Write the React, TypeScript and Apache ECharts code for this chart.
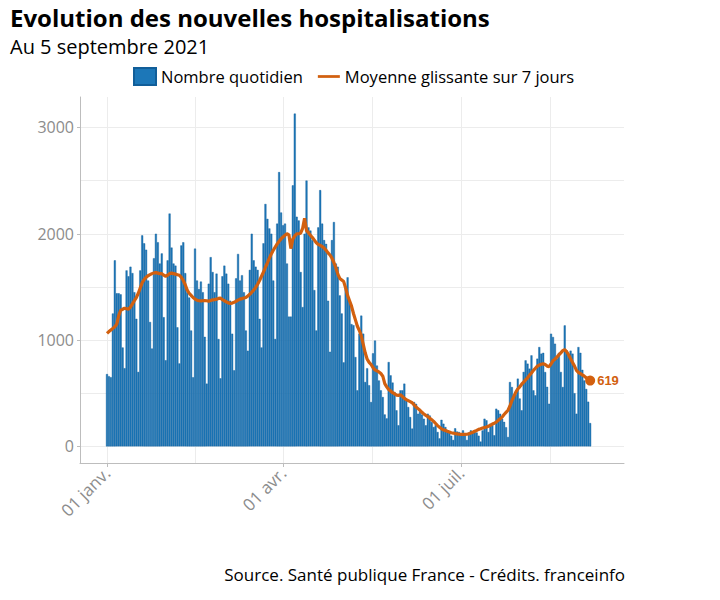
import React, { useEffect, useRef } from 'react';
import * as echarts from 'echarts';

// Daily new hospitalisations, 1 Jan 2021 (index 0) to 5 Sep 2021 (index 247)
const dailyCounts: number[] = [
  680, 660, 650,
  1250, 1750, 1440, 1440, 1430, 930, 735,
  1655, 1600, 1690, 1630, 1450, 1200, 700,
  1655, 1985, 1910, 1850, 1560, 1170, 920,
  1770, 2000, 1920, 1720, 1815, 1215, 810,
  1750, 2190, 1870, 1720, 1700, 1120, 780,
  1890, 1920, 1630, 1450, 1400, 1090, 650,
  1860, 1560, 1480, 1550, 1450, 1030, 590,
  1530, 1780, 1640, 1450, 1625, 1010, 640,
  1600, 1700, 1625, 1530, 1370, 1060, 715,
  1580, 1810, 1560, 1610, 1450, 1090, 900,
  1660, 2000, 1750, 1690, 1660, 1200, 930,
  1910, 2280, 2140, 2050, 2000, 1560, 1010,
  2095, 2580, 2200, 2080, 2095, 1720, 1220,
  1220, 2455, 3130, 2160, 2125, 1640, 1310,
  2000, 2500, 2060, 2030, 1940, 1470, 1090,
  2060, 2410, 2095, 1940, 1905, 1370, 890,
  1940, 2110, 1720, 1690, 1420, 1250, 790,
  1500, 1590, 1370, 1150, 1140, 840, 527,
  1060, 1230, 1060, 605, 735, 575, 417,
  875, 995, 760, 620, 527, 464, 300,
  263, 793, 668, 600, 511, 339, 198,
  527, 527, 590, 449, 370, 276, 167,
  417, 400, 307, 330, 300, 260, 198,
  307, 290, 229, 182, 200, 135, 75,
  250, 213, 182, 150, 135, 100, 60,
  170, 140, 135, 120, 150, 120, 60,
  130, 150, 140, 135, 130, 100, 45,
  150, 260, 245, 135, 213, 200, 104,
  354, 340, 307, 260, 230, 180, 88,
  605, 558, 480, 490, 637, 450, 339,
  700, 809, 778, 731, 856, 527, 480,
  825, 934, 872, 880, 699, 560, 401,
  1060, 1029, 966, 825, 880, 700, 558,
  1138, 903, 850, 900, 872, 500, 307,
  934, 880, 720, 620, 540, 420, 219,
];

// 7-day moving average as drawn on the reference
const movingAverage: number[] = [
  1063, 1080, 1095, 1110, 1125, 1150, 1230, 1280, 1290, 1300,
  1295, 1290, 1310, 1340, 1370, 1400, 1440, 1490, 1540, 1570,
  1590, 1605, 1615, 1625, 1632, 1635, 1630, 1625, 1625, 1610,
  1600, 1610, 1625, 1630, 1625, 1620, 1615, 1610, 1590, 1560,
  1520, 1470, 1440, 1420, 1400, 1385, 1375, 1370, 1368, 1370,
  1372, 1370, 1365, 1372, 1378, 1380, 1385, 1392, 1395, 1380,
  1370, 1360, 1350, 1345, 1348, 1355, 1365, 1375, 1385, 1390,
  1395, 1400, 1415, 1430, 1450, 1470, 1495, 1525, 1560, 1600,
  1640, 1685, 1725, 1770, 1810, 1845, 1875, 1905, 1930, 1952,
  1970, 1985, 2000, 1990, 1860, 1950, 1980, 2000, 2000, 2005,
  2050, 2145, 2030, 2010, 1985, 1965, 1940, 1915, 1900, 1890,
  1880, 1865, 1845, 1820, 1800, 1770, 1730, 1680, 1620, 1580,
  1565, 1550, 1490, 1420, 1370, 1320, 1250, 1190, 1130, 1090,
  1040, 960, 880, 820, 790, 770, 740, 720, 710, 700,
  685, 660, 590, 560, 535, 520, 505, 495, 482, 480,
  485, 470, 452, 440, 430, 420, 410, 390, 370, 355,
  340, 320, 305, 292, 280, 265, 250, 235, 215, 195,
  180, 165, 155, 150, 142, 135, 128, 125, 120, 117,
  114, 113, 113, 113, 114, 118, 125, 133, 142, 150,
  160, 165, 172, 178, 182, 190, 198, 210, 218, 228,
  245, 260, 275, 300, 320, 340, 380, 430, 470, 510,
  540, 560, 585, 605, 625, 645, 670, 690, 715, 735,
  755, 765, 772, 778, 770, 755, 750, 775, 805, 820,
  840, 860, 880, 900, 910, 890, 860, 825, 790, 755,
  715, 695, 685, 672, 660, 645, 630, 619,
];

const xTickDays = [0, 90, 181];
const xTickLabels = ['01 janv.', '01 avr.', '01 juil.'];
const xGridDays = [0, 45, 90, 135.5, 181, 226.5];
const yTickValues = [0, 1000, 2000, 3000];
const yGridValues = [0, 500, 1000, 1500, 2000, 2500, 3000];

const BLUE = '#1c77b8';
const ORANGE = '#d2600f';
const GRAY = '#8c8c8c';
const FONT = 'Open Sans';

export default function App() {
  const ref = useRef<HTMLDivElement>(null);

  useEffect(() => {
    const chart = echarts.init(ref.current!, null, { renderer: 'svg' });
    const barData = dailyCounts.map((v, i) => [i, v]);
    const lineData = movingAverage.map((v, i) => [i, v]);
    const last = lineData[lineData.length - 1];

    const gridLines = [
      ...yGridValues.map((v) => ({ yAxis: v })),
      ...xGridDays.map((d) => ({ xAxis: d })),
    ];

    const option: any = {
      animation: false,
      textStyle: { fontFamily: FONT },
      graphic: [
        {
          type: 'text', left: 10, top: 5,
          style: { text: 'Evolution des nouvelles hospitalisations', font: `bold 24px '${FONT}'`, fill: '#000' },
        },
        {
          type: 'text', left: 10, top: 36,
          style: { text: 'Au 5 septembre 2021', font: `20px '${FONT}'`, fill: '#000' },
        },
        {
          type: 'text', right: 95, top: 566,
          style: { text: 'Source. Santé publique France - Crédits. franceinfo', font: `17px '${FONT}'`, fill: '#000' },
        },
      ],
      legend: {
        left: 133, top: 67, padding: 0,
        itemWidth: 22, itemHeight: 17, itemGap: 15,
        textStyle: { fontSize: 16.5, color: '#000', fontFamily: FONT },
        data: [
          { name: 'Nombre quotidien', icon: 'rect' },
          { name: 'Moyenne glissante sur 7 jours', icon: 'path://M0 0H24V3H0Z' },
        ],
        selectedMode: false,
      },
      grid: { left: 80, right: 96, top: 97, bottom: 137 },
      xAxis: {
        type: 'value', min: -13.8, max: 264.3,
        axisLine: { show: true, onZero: false, lineStyle: { color: '#bdbdbd', width: 1 } },
        axisTick: { show: true, customValues: xTickDays, length: 4, lineStyle: { color: '#bdbdbd' } },
        axisLabel: {
          customValues: xTickDays, rotate: 45, margin: 7,
          formatter: (v: number) => {
            const i = xTickDays.indexOf(Math.round(v));
            return i >= 0 ? xTickLabels[i] : '';
          },
          color: GRAY, fontSize: 17, fontFamily: FONT,
        },
        splitLine: { show: false },
      },
      yAxis: {
        type: 'value', min: -156.5, max: 3286.5,
        axisLine: { show: true, onZero: false, lineStyle: { color: '#bdbdbd', width: 1 } },
        axisTick: { show: true, customValues: yTickValues, length: 3, lineStyle: { color: '#bdbdbd' } },
        axisLabel: {
          customValues: yTickValues, color: GRAY, fontSize: 16, fontFamily: FONT, margin: 6,
          formatter: (v: number) => String(v),
        },
        splitLine: { show: false },
      },
      series: [
        {
          type: 'line', data: [], silent: true, z: 0,
          markLine: {
            z: 0,
            silent: true, symbol: ['none', 'none'], label: { show: false },
            lineStyle: { color: '#ececec', type: 'solid', width: 1 },
            emphasis: { disabled: true },
            data: gridLines,
          },
        },
        {
          name: 'Nombre quotidien', type: 'bar', data: barData, barWidth: 2, z: 2,
          itemStyle: { color: BLUE, borderColor: '#115e99', borderWidth: 0.4 },
        },
        {
          name: 'Moyenne glissante sur 7 jours', type: 'line', data: lineData,
          showSymbol: false, symbol: 'none', z: 3,
          itemStyle: { color: ORANGE },
          lineStyle: { color: ORANGE, width: 3.2 },
        },
        {
          type: 'scatter', data: [last], symbolSize: 10, z: 4,
          itemStyle: { color: ORANGE, opacity: 1 },
          label: {
            show: true, position: 'right', distance: 2,
            formatter: (p: any) => String(p.value[1]),
            color: ORANGE, fontWeight: 'bold', fontSize: 13, fontFamily: 'Liberation Sans',
          },
        },
      ],
    };

    chart.setOption(option);
    return () => chart.dispose();
  }, []);

  return (
    <div
      ref={ref}
      style={{ position: 'absolute', left: 0, top: 0, width: 720, height: 600, background: '#fff' }}
    />
  );
}
